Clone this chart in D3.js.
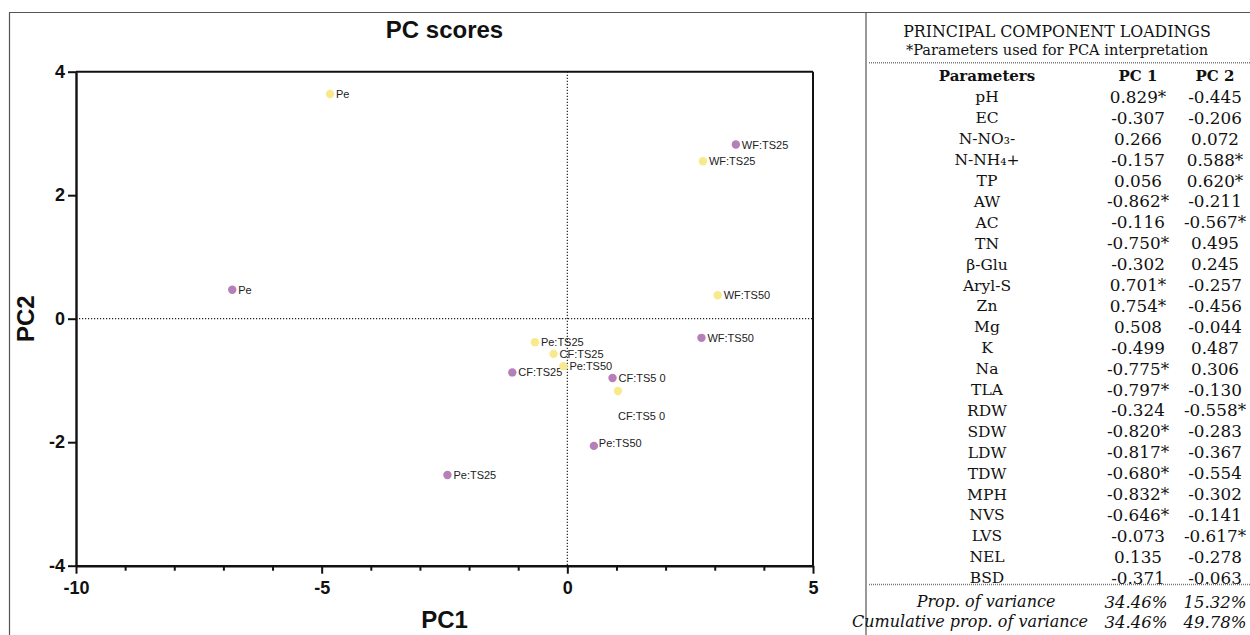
<!DOCTYPE html>
<html><head><meta charset="utf-8">
<script src="https://cdn.jsdelivr.net/npm/d3@7"></script>
<style>body{margin:0;background:#fff}svg{display:block}</style>
</head><body>
<svg id="c" width="1250" height="635"></svg>
<script>
// ---- Data ----
const yellowLabels = ["Pe","WF:TS25","WF:TS50","Pe:TS25","CF:TS25","Pe:TS50","CF:TS5 0"];
const yellowPC1 = [-4.83, 2.76, 3.06, -0.66, -0.28, -0.08, 1.03];
const yellowPC2 = [3.64, 2.55, 0.38, -0.38, -0.57, -0.77, -1.17];
const purpleLabels = ["Pe","WF:TS25","WF:TS50","CF:TS25","CF:TS5 0","Pe:TS50","Pe:TS25"];
const purplePC1 = [-6.82, 3.43, 2.73, -1.12, 0.92, 0.54, -2.44];
const purplePC2 = [0.47, 2.82, -0.31, -0.87, -0.96, -2.06, -2.53];
const xTicks = [-10, -5, 0, 5];
const yTicks = [-4, -2, 0, 2, 4];

const params = ["pH","EC","N-NO₃-","N-NH₄+","TP","AW","AC","TN","β-Glu","Aryl-S","Zn","Mg","K","Na","TLA","RDW","SDW","LDW","TDW","MPH","NVS","LVS","NEL","BSD"];
const pc1 = ["0.829*","-0.307","0.266","-0.157","0.056","-0.862*","-0.116","-0.750*","-0.302","0.701*","0.754*","0.508","-0.499","-0.775*","-0.797*","-0.324","-0.820*","-0.817*","-0.680*","-0.832*","-0.646*","-0.073","0.135","-0.371"];
const pc2 = ["-0.445","-0.206","0.072","0.588*","0.620*","-0.211","-0.567*","0.495","0.245","-0.257","-0.456","-0.044","0.487","0.306","-0.130","-0.558*","-0.283","-0.367","-0.554","-0.302","-0.141","-0.617*","-0.278","-0.063"];
const propVar = ["34.46%","15.32%"];
const cumVar = ["34.46%","49.78%"];

// ---- Layout ----
const svg = d3.select("#c");
const sans = "'Liberation Sans', Arial, Helvetica, sans-serif";
const serif = "'DejaVu Serif', serif";
const YELLOW = "#f8ea8c", PURPLE = "#b57fba";

// outer frame
svg.append("line").attr("x1",9).attr("x2",1250).attr("y1",12.5).attr("y2",12.5).attr("stroke","#555").attr("stroke-width",1.2);
svg.append("line").attr("x1",9.5).attr("x2",9.5).attr("y1",12.5).attr("y2",635).attr("stroke","#555").attr("stroke-width",1.2);
svg.append("line").attr("x1",866).attr("x2",866).attr("y1",12.5).attr("y2",635).attr("stroke","#555").attr("stroke-width",1.2);

const x = d3.scaleLinear().domain([-10,5]).range([76,813]);
const y = d3.scaleLinear().domain([-4,4]).range([565.7,71.7]);

const g = svg.append("g");
// top and right border of plot
g.append("line").attr("x1",x(-10)).attr("x2",x(5)).attr("y1",y(4)).attr("y2",y(4)).attr("stroke","#111").attr("stroke-width",2);
g.append("line").attr("x1",x(5)).attr("x2",x(5)).attr("y1",y(4)).attr("y2",y(-4)).attr("stroke","#111").attr("stroke-width",2);
// zero lines
g.append("line").attr("x1",x(-10)).attr("x2",x(5)).attr("y1",y(0)).attr("y2",y(0)).attr("stroke","#222").attr("stroke-width",1.2).attr("stroke-dasharray","1.2,1.8");
g.append("line").attr("x1",x(0)).attr("x2",x(0)).attr("y1",y(4)).attr("y2",y(-4)).attr("stroke","#222").attr("stroke-width",1.2).attr("stroke-dasharray","1.2,1.8");

const fmt = d => String(d);
// x axis
const xAxis = g.append("g").attr("transform",`translate(0,${y(-4)})`)
  .call(d3.axisBottom(x).tickValues(xTicks).tickFormat(fmt).tickSize(8).tickSizeOuter(0));
// minor ticks
g.append("g").attr("transform",`translate(0,${y(-4)})`)
  .call(d3.axisBottom(x).tickValues(d3.range(-10,6).filter(v=>!xTicks.includes(v))).tickSize(5).tickFormat("").tickSizeOuter(0))
  .call(s=>s.select(".domain").remove());
const yAxis = g.append("g").attr("transform",`translate(${x(-10)},0)`)
  .call(d3.axisLeft(y).tickValues(yTicks).tickFormat(fmt).tickSize(8).tickSizeOuter(0));
g.selectAll(".tick line").attr("stroke","#111").attr("stroke-width",2);
g.selectAll(".domain").attr("stroke","#111").attr("stroke-width",2.4);
xAxis.selectAll("text").attr("font-family",sans).attr("font-weight","bold").attr("font-size",18).attr("fill","#111").attr("dy","0.95em");
yAxis.selectAll("text").attr("font-family",sans).attr("font-weight","bold").attr("font-size",18).attr("fill","#111").attr("x",-11);

// titles
svg.append("text").attr("x",(x(-10)+x(5))/2).attr("y",38).attr("text-anchor","middle")
  .attr("font-family",sans).attr("font-weight","bold").attr("font-size",24).attr("fill","#111").text("PC scores");
svg.append("text").attr("x",(x(-10)+x(5))/2).attr("y",628).attr("text-anchor","middle")
  .attr("font-family",sans).attr("font-weight","bold").attr("font-size",24).attr("fill","#111").text("PC1");
svg.append("text").attr("transform",`translate(34,${y(0)}) rotate(-90)`).attr("text-anchor","middle")
  .attr("font-family",sans).attr("font-weight","bold").attr("font-size",24).attr("fill","#111").text("PC2");

// points
const labelOffset = {"Y:CF:TS5 0":[0,25], "P:Pe:TS50":[5,-3]};
function drawSeries(xs, ys, labs, color, key){
  const data = xs.map((v,i)=>({x:v, y:ys[i], label:labs[i], key:key+":"+labs[i]}));
  const s = g.append("g");
  s.selectAll("circle").data(data).join("circle")
    .attr("cx",d=>x(d.x)).attr("cy",d=>y(d.y)).attr("r",4.2).attr("fill",color);
  s.selectAll("text").data(data).join("text")
    .attr("x",d=>x(d.x)+(labelOffset[d.key]?labelOffset[d.key][0]:6))
    .attr("y",d=>y(d.y)+(labelOffset[d.key]?labelOffset[d.key][1]:0))
    .attr("dy","0.36em").attr("font-family",sans).attr("font-size",11).attr("fill","#222")
    .text(d=>d.label);
}
drawSeries(purplePC1, purplePC2, purpleLabels, PURPLE, "P");
drawSeries(yellowPC1, yellowPC2, yellowLabels, YELLOW, "Y");

// ---- Table ----
const t = svg.append("g").attr("font-family",serif).attr("fill","#111");
const colName = 987, colPC1 = 1138, colPC2 = 1215;
t.append("text").attr("x",1057).attr("y",31.7).attr("dy","0.36em").attr("text-anchor","middle").attr("font-size",15.8).text("PRINCIPAL COMPONENT LOADINGS");
t.append("text").attr("x",1057).attr("y",50).attr("dy","0.36em").attr("text-anchor","middle").attr("font-size",14.6).text("*Parameters used for PCA interpretation");
t.append("line").attr("x1",869).attr("x2",1250).attr("y1",62.7).attr("y2",62.7).attr("stroke","#777").attr("stroke-width",1.5).attr("stroke-dasharray","1,1");
const hdr = t.append("g").attr("font-weight","bold").attr("font-size",15);
hdr.append("text").attr("x",colName).attr("y",76).attr("dy","0.36em").attr("text-anchor","middle").text("Parameters");
hdr.append("text").attr("x",colPC1).attr("y",76).attr("dy","0.36em").attr("text-anchor","middle").text("PC 1");
hdr.append("text").attr("x",colPC2).attr("y",76).attr("dy","0.36em").attr("text-anchor","middle").text("PC 2");

const ry = d3.scalePoint().domain(params).range([96.9, 577.6]);
const rows = t.append("g");
params.forEach((p,i)=>{
  rows.append("text").attr("x",colName).attr("y",ry(p)).attr("dy","0.36em").attr("text-anchor","middle").attr("font-size",15.5).text(p);
  rows.append("text").attr("x",colPC1).attr("y",ry(p)).attr("dy","0.36em").attr("text-anchor","middle").attr("font-size",16.8).text(pc1[i]);
  rows.append("text").attr("x",colPC2).attr("y",ry(p)).attr("dy","0.36em").attr("text-anchor","middle").attr("font-size",16.8).text(pc2[i]);
});
t.append("line").attr("x1",869).attr("x2",1250).attr("y1",584.5).attr("y2",584.5).attr("stroke","#777").attr("stroke-width",1.5).attr("stroke-dasharray","1,1");
const foot = t.append("g").attr("font-style","italic");
foot.append("text").attr("x",986).attr("y",601.7).attr("dy","0.36em").attr("text-anchor","middle").attr("font-size",16).text("Prop. of variance");
foot.append("text").attr("x",colPC1-2).attr("y",601.7).attr("dy","0.36em").attr("text-anchor","middle").attr("font-size",16.5).text(propVar[0]);
foot.append("text").attr("x",colPC2).attr("y",601.7).attr("dy","0.36em").attr("text-anchor","middle").attr("font-size",16.5).text(propVar[1]);
foot.append("text").attr("x",970).attr("y",621.7).attr("dy","0.36em").attr("text-anchor","middle").attr("font-size",16).text("Cumulative prop. of variance");
foot.append("text").attr("x",colPC1-2).attr("y",621.7).attr("dy","0.36em").attr("text-anchor","middle").attr("font-size",16.5).text(cumVar[0]);
foot.append("text").attr("x",colPC2).attr("y",621.7).attr("dy","0.36em").attr("text-anchor","middle").attr("font-size",16.5).text(cumVar[1]);
</script>
</body></html>
